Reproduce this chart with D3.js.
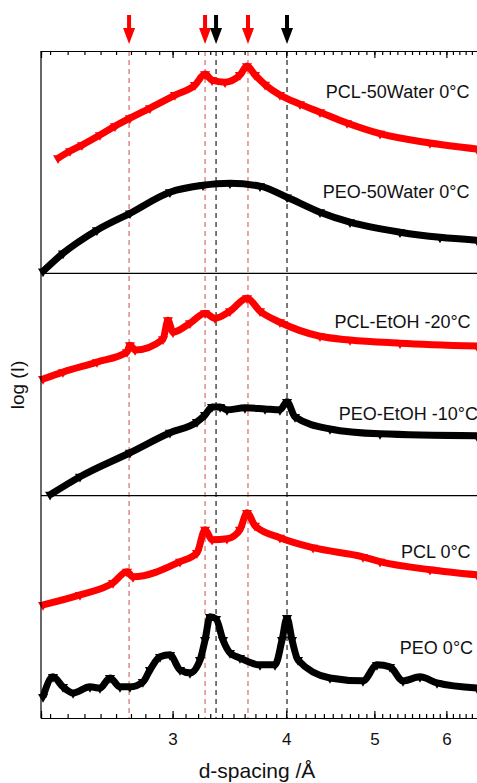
<!DOCTYPE html>
<meta charset="utf-8">
<head>
  <title>WAXS d-spacing</title>
</head>

<style>
body {
  margin: 0;
  background: #fff;
  font-family: "Liberation Sans", Arial, sans-serif;
}
</style>

<body>
  <div id="content">
    <svg width="477" height="783"></svg>
  </div>

  <script src="https://cdnjs.cloudflare.com/ajax/libs/d3/7.8.5/d3.min.js"></script>

  <script>
// series: [d-spacing (Å), log I (a.u., 0-100 within its panel)]
var pcl50Water = [[2.245, 51.8], [2.314, 55.0], [2.385, 57.7], [2.496, 62.2], [2.593, 66.2],
  [2.693, 69.8], [2.833, 74.3], [3.018, 80.2], [3.175, 84.7], [3.257, 89.6], [3.315, 86.9],
  [3.426, 86.0], [3.558, 89.2], [3.622, 93.2], [3.696, 89.2], [3.791, 84.9], [3.937, 80.2],
  [4.142, 76.1], [4.357, 72.5], [4.666, 67.6], [5.072, 62.8], [5.756, 58.6], [6.484, 55.9]];

var peo50Water = [[2.161, 0.9], [2.273, 9.0], [2.477, 19.4], [2.693, 27.0], [2.980, 36.5],
  [3.240, 39.6], [3.469, 40.5], [3.743, 39.2], [4.008, 34.2], [4.357, 27.5], [4.701, 23.0],
  [5.335, 18.5], [5.904, 16.2], [6.484, 14.9]];

var pclEtOH = [[2.161, 52.5], [2.273, 55.6], [2.477, 60.1], [2.673, 64.6], [2.693, 67.7],
  [2.728, 65.5], [2.928, 70.4], [2.965, 78.9], [3.003, 73.5], [3.135, 77.6], [3.257, 82.1],
  [3.340, 79.8], [3.469, 83.0], [3.622, 88.8], [3.743, 83.0], [3.937, 78.0], [4.357, 71.7],
  [4.701, 70.0], [5.335, 68.6], [6.484, 67.3]];

var peoEtOH = [[2.200, 0.4], [2.373, 8.5], [2.693, 19.3], [2.980, 28.3], [3.191, 33.2],
  [3.257, 36.3], [3.315, 39.9], [3.383, 39.9], [3.443, 38.6], [3.603, 39.5], [3.791, 39.0],
  [3.937, 38.6], [4.008, 42.2], [4.090, 35.4], [4.469, 30.0], [5.072, 27.8], [6.484, 26.9]];

var pcl0 = [[2.161, 50.9], [2.373, 55.4], [2.580, 60.8], [2.673, 65.8], [2.714, 63.5],
  [3.057, 70.3], [3.191, 74.3], [3.257, 84.7], [3.315, 80.2], [3.443, 80.6], [3.558, 84.7],
  [3.622, 92.3], [3.696, 86.5], [3.937, 81.1], [4.281, 76.6], [4.858, 72.5], [5.072, 70.3],
  [5.756, 66.7], [6.484, 64.4]];

var peo0 = [[2.161, 9.5], [2.216, 18.5], [2.273, 14.0], [2.332, 11.3], [2.434, 14.0],
  [2.496, 13.5], [2.560, 18.0], [2.626, 14.0], [2.693, 14.0], [2.783, 16.2], [2.833, 21.6],
  [2.906, 27.5], [2.980, 28.4], [3.057, 21.6], [3.135, 20.3], [3.216, 26.1], [3.257, 35.1],
  [3.298, 45.5], [3.349, 44.6], [3.408, 35.1], [3.469, 29.3], [3.558, 27.0], [3.743, 23.9],
  [3.888, 23.9], [3.958, 35.1], [4.008, 45.0], [4.059, 35.1], [4.121, 26.1], [4.469, 18.0],
  [4.858, 16.7], [5.033, 23.9], [5.202, 23.0], [5.376, 16.7], [5.612, 18.5], [5.859, 15.8],
  [6.484, 13.5]];

var seriesNames = ['PCL-50Water 0°C', 'PEO-50Water 0°C', 'PCL-EtOH -20°C',
  'PEO-EtOH -10°C', 'PCL 0°C', 'PEO 0°C'];
var seriesData = [pcl50Water, peo50Water, pclEtOH, peoEtOH, pcl0, peo0];
var seriesPanel = [0, 0, 1, 1, 2, 2];
var seriesColor = ['#ff0000', '#000000', '#ff0000', '#000000', '#ff0000', '#000000'];
// where each label sits: right edge d, baseline log I
var labelD = [6.36, 6.36, 6.38, 6.5, 6.38, 6.42];
var labelI = [79, 34, 75.5, 34, 72, 29];

// reflection markers
var peakD = [2.687, 3.257, 3.349, 3.631, 4.008];
var peakColor = ['#ff0000', '#ff0000', '#000000', '#ff0000', '#000000'];

var majorTicks = [3, 4, 5, 6];
var minorTicks = d3.range(22, 65).map(function(v) { return v / 10; });

var svg = d3.select('#content svg');
var plotLeft = 41, plotRight = 478, plotTop = 51, plotBottom = 718;
var panelH = (plotBottom - plotTop) / 3;

var x = d3.scaleLog()
  .domain([2.15, 6.5])
  .range([plotLeft, plotRight]);

function yPanel(i) {
  return d3.scaleLinear()
    .domain([0, 100])
    .range([plotTop + (i + 1) * panelH, plotTop + i * panelH]);
}

// dashed guide lines
svg.append('g')
  .selectAll('line')
  .data(peakD)
  .enter().append('line')
  .attr('x1', function(d) { return x(d); })
  .attr('x2', function(d) { return x(d); })
  .attr('y1', plotTop)
  .attr('y2', plotBottom)
  .attr('stroke', function(d, i) { return peakColor[i] == '#000000' ? '#222' : '#c83c3c'; })
  .attr('stroke-width', function(d, i) { return peakColor[i] == '#000000' ? 1.2 : 0.9; })
  .attr('stroke-dasharray', '5,4');

// arrows above the frame
svg.append('g')
  .selectAll('path')
  .data(peakD)
  .enter().append('path')
  .attr('d', function(d) {
    var cx = x(d);
    return 'M' + (cx - 2) + ',15 L' + (cx + 2) + ',15 L' + (cx + 2) + ',28 L' + (cx + 6) + ',28 L' +
      cx + ',44 L' + (cx - 6) + ',28 L' + (cx - 2) + ',28 Z';
  })
  .attr('fill', function(d, i) { return peakColor[i]; });

// curves
var tri = d3.symbol().type(d3.symbolTriangle).size(44);

seriesData.forEach(function(data, i) {
  var y = yPanel(seriesPanel[i]);
  var line = d3.line()
    .x(function(d) { return x(d[0]); })
    .y(function(d) { return y(d[1]); })
    .curve(d3.curveMonotoneX);

  svg.append('path')
    .datum(data)
    .attr('d', line)
    .attr('fill', 'none')
    .attr('stroke', seriesColor[i])
    .attr('stroke-width', 7)
    .attr('stroke-linejoin', 'round');

  svg.append('g')
    .selectAll('path')
    .data(data)
    .enter().append('path')
    .attr('d', tri)
    .attr('transform', function(d) { return 'translate(' + x(d[0]) + ',' + y(d[1]) + ') rotate(180)'; })
    .attr('fill', seriesColor[i]);

  svg.append('text')
    .attr('x', x(labelD[i]))
    .attr('y', y(labelI[i]))
    .attr('text-anchor', 'end')
    .attr('font-size', 18)
    .attr('fill', '#111')
    .text(seriesNames[i]);
});

// frame: left edge and panel separators
svg.append('line')
  .attr('x1', plotLeft).attr('x2', plotLeft)
  .attr('y1', plotTop).attr('y2', plotBottom)
  .attr('stroke', '#000').attr('stroke-width', 1.2);

[1, 2].forEach(function(i) {
  svg.append('line')
    .attr('x1', plotLeft).attr('x2', plotRight)
    .attr('y1', plotTop + i * panelH).attr('y2', plotTop + i * panelH)
    .attr('stroke', '#000').attr('stroke-width', 1.2);
});

// axes, ticks pointing inward
function drawAxis(axisFn, ypos, values, len, labels) {
  var g = svg.append('g')
    .attr('transform', 'translate(0,' + ypos + ')')
    .call(axisFn(x)
      .tickValues(values)
      .tickSize(-len)
      .tickPadding(15)
      .tickFormat(labels ? d3.format('d') : ''));
  g.select('.domain').attr('stroke-width', 1.2);
  g.selectAll('.tick line').attr('stroke-width', 1.2);
  g.selectAll('text')
    .attr('font-family', '"Liberation Sans", Arial, sans-serif')
    .attr('font-size', 17)
    .attr('fill', '#111');
  return g;
}

drawAxis(d3.axisBottom, plotBottom, minorTicks, 4, false);
drawAxis(d3.axisBottom, plotBottom, majorTicks, 7, true);
drawAxis(d3.axisTop, plotTop, minorTicks, 4, false);
drawAxis(d3.axisTop, plotTop, majorTicks, 7, false);

// axis titles
svg.append('text')
  .attr('x', 257)
  .attr('y', 778)
  .attr('text-anchor', 'middle')
  .attr('font-size', 21)
  .attr('fill', '#111')
  .text('d-spacing /Å');

svg.append('text')
  .attr('transform', 'translate(24,385) rotate(-90)')
  .attr('text-anchor', 'middle')
  .attr('font-size', 19)
  .attr('fill', '#111')
  .text('log (I)');
  </script>
</body>
</html>
